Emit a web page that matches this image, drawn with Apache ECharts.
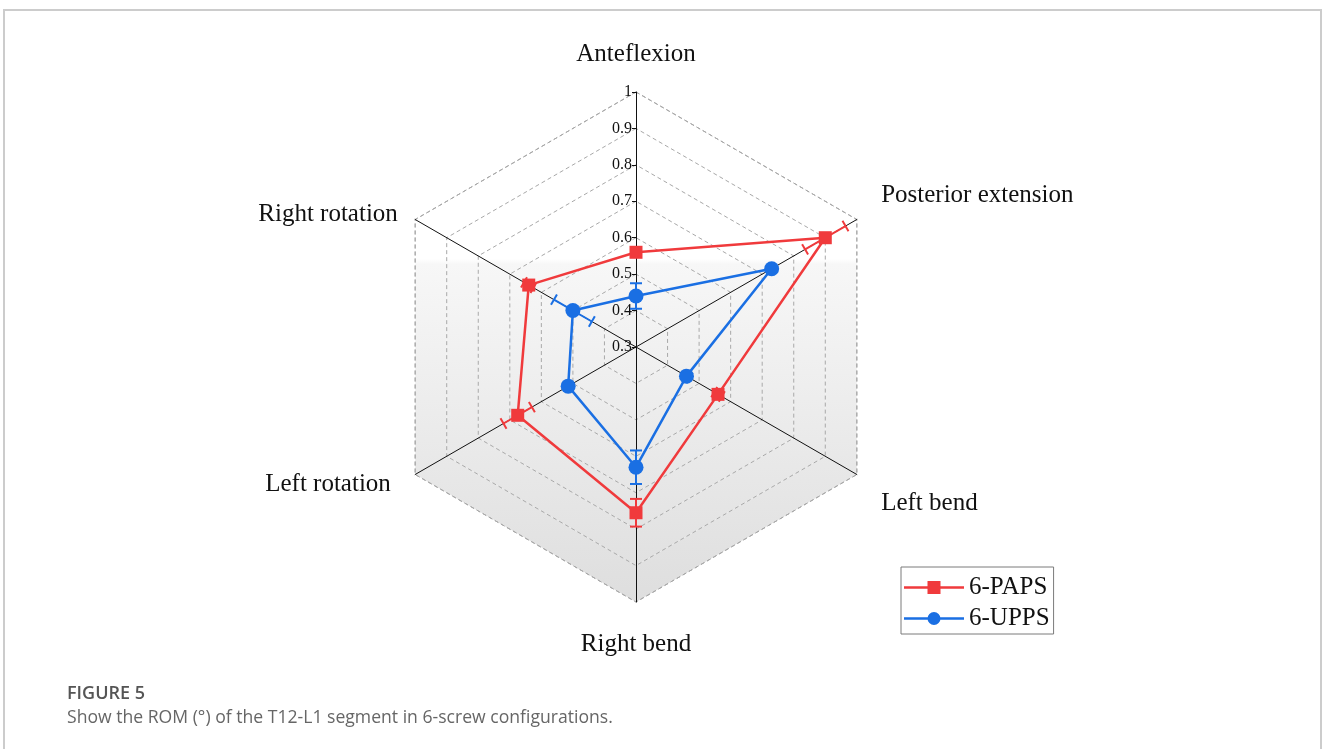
<!DOCTYPE html>
<html>
<head>
<meta charset="utf-8">
<script src="https://cdn.jsdelivr.net/npm/echarts@6/dist/echarts.min.js"></script>
<style>
  html, body { margin: 0; padding: 0; background: #fff; }
  #chart { width: 1328px; height: 749px; }
</style>
</head>
<body>
<div id="chart"></div>
<script>
// Axes listed counter-clockwise from the top
const indicatorNames = ['Anteflexion', 'Right rotation', 'Left rotation', 'Right bend', 'Left bend', 'Posterior extension'];
const seriesNames = ['6-PAPS', '6-UPPS'];
const papsValues = [0.56, 0.64, 0.675, 0.755, 0.56, 0.90];
const papsErrors = [0.008, 0.015, 0.045, 0.038, 0.012, 0.064];
const uppsValues = [0.44, 0.50, 0.515, 0.63, 0.46, 0.73];
const uppsErrors = [0.035, 0.06, 0.006, 0.046, 0.01, 0.006];
const axisMin = 0.3;
const axisMax = 1;
const axisStep = 0.1;

const RED = '#f03a3c';
const BLUE = '#1a6fe3';
const SERIF = '"Liberation Serif", "Times New Roman", serif';
const CENTER = [636, 347];
const RADIUS = 255;

// per-axis padding [top, right, bottom, left] that nudges each axis title
const namePadding = [[0, 0, 5, 0], [10, 0, 0, 0], [0, 7, 0, 0], [10, 0, 0, 0], [38, 0, 0, 7], [0, 0, 28, 7]];

const chart = echarts.init(document.getElementById('chart'), null, { renderer: 'canvas' });

// shading inside the web, fading from white to light grey downwards
const shade = {
  type: 'linear', x: 0, y: 90, x2: 0, y2: 602, global: true,
  colorStops: [
    { offset: 0, color: '#ffffff' },
    { offset: 0.33, color: '#ffffff' },
    { offset: 0.34, color: '#f7f7f7' },
    { offset: 1, color: '#dedede' }
  ]
};

// angle (degrees, counter-clockwise from top) of each indicator in the polar overlay
const angleOf = i => i * 360 / indicatorNames.length;

function errorData(values, errors) {
  return values.map((v, i) => [v, angleOf(i), errors[i]]);
}

function errorBarSeries(name, values, errors, color) {
  return {
    type: 'custom',
    name: name,
    coordinateSystem: 'polar',
    polarIndex: 0,
    z: 1,
    silent: true,
    itemStyle: { color: color },
    encode: { radius: 0, angle: 1 },
    data: errorData(values, errors),
    renderItem: function (params, api) {
      const v = api.value(0), a = api.value(1), e = api.value(2);
      const lo = api.coord([v - e, a]);
      const hi = api.coord([v + e, a]);
      let dx = hi[0] - lo[0], dy = hi[1] - lo[1];
      const len = Math.sqrt(dx * dx + dy * dy) || 1;
      dx /= len; dy /= len;
      const h = 6;
      const nx = -dy * h, ny = dx * h;
      const style = { stroke: color, lineWidth: 2 };
      return {
        type: 'group',
        children: [
          { type: 'line', shape: { x1: lo[0], y1: lo[1], x2: hi[0], y2: hi[1] }, style: style },
          { type: 'line', shape: { x1: lo[0] - nx, y1: lo[1] - ny, x2: lo[0] + nx, y2: lo[1] + ny }, style: style },
          { type: 'line', shape: { x1: hi[0] - nx, y1: hi[1] - ny, x2: hi[0] + nx, y2: hi[1] + ny }, style: style }
        ]
      };
    }
  };
}

const nameRich = {};
indicatorNames.forEach((n, i) => {
  nameRich['n' + i] = { color: '#111', fontFamily: SERIF, fontSize: 25, padding: namePadding[i] };
});

const option = {
  animation: false,
  backgroundColor: '#ffffff',
  color: [RED, BLUE],
  graphic: [
    {
      type: 'rect', silent: true, z: -10,
      shape: { x: 4, y: 10, width: 1317, height: 760 },
      style: { fill: 'none', stroke: '#cccccc', lineWidth: 2 }
    },
    {
      type: 'text', left: 67, top: 685,
      style: { text: 'FIGURE 5', fill: '#555555', font: '600 18px "Open Sans", sans-serif' }
    },
    {
      type: 'text', left: 67, top: 709,
      style: { text: 'Show the ROM (°) of the T12-L1 segment in 6-screw configurations.', fill: '#666666', font: '17.6px "Open Sans", sans-serif' }
    }
  ],
  legend: {
    orient: 'vertical',
    left: 901,
    top: 567,
    padding: [8, 4, 3, 3],
    itemGap: 6,
    itemWidth: 60,
    itemHeight: 14,
    borderColor: '#7a7a7a',
    borderWidth: 1,
    backgroundColor: '#ffffff',
    textStyle: { fontFamily: SERIF, fontSize: 25, color: '#111' },
    data: [
      {
        name: seriesNames[0], itemStyle: { color: RED },
        icon: 'path://M0,11.2L60,11.2L60,13.8L0,13.8Z M23.5,6L36.5,6L36.5,19L23.5,19Z'
      },
      {
        name: seriesNames[1], itemStyle: { color: BLUE },
        icon: 'path://M0,11.2L60,11.2L60,13.8L0,13.8Z M36.5,12.5A6.5,6.5 0 1,1 23.5,12.5A6.5,6.5 0 1,1 36.5,12.5Z'
      }
    ]
  },
  radar: {
    center: CENTER,
    radius: RADIUS,
    startAngle: 90,
    shape: 'polygon',
    splitNumber: Math.round((axisMax - axisMin) / axisStep),
    nameGap: 20,
    axisName: {
      color: '#111', fontFamily: SERIF, fontSize: 25,
      formatter: function (name) {
        return '{n' + indicatorNames.indexOf(name) + '|' + name + '}';
      },
      rich: nameRich
    },
    indicator: indicatorNames.map(n => ({ name: n, min: axisMin, max: axisMax })),
    axisLine: { lineStyle: { color: '#111', width: 1 } },
    splitLine: { lineStyle: { color: '#a8a8a8', width: 1, type: [4, 3] } },
    splitArea: { show: true, areaStyle: { color: [shade, shade, shade, shade, shade, shade, shade] } },
    axisLabel: { show: false },
    axisTick: { show: false }
  },
  polar: { center: CENTER, radius: [0, RADIUS] },
  angleAxis: {
    type: 'value', min: 0, max: 360, startAngle: 90, clockwise: false,
    axisLine: { show: false }, axisTick: { show: false }, axisLabel: { show: false },
    splitLine: { show: false }, splitArea: { show: false }
  },
  radiusAxis: {
    type: 'value', min: axisMin, max: axisMax, interval: axisStep,
    axisLine: { show: false },
    axisTick: { show: true, length: 4, lineStyle: { color: '#111' } },
    axisLabel: {
      show: true, color: '#111', fontFamily: SERIF, fontSize: 16, margin: 4,
      formatter: v => String(+v.toFixed(1))
    },
    splitLine: { show: false }, splitArea: { show: false }
  },
  series: [
    errorBarSeries(seriesNames[0], papsValues, papsErrors, RED),
    errorBarSeries(seriesNames[1], uppsValues, uppsErrors, BLUE),
    {
      type: 'radar',
      z: 3,
      data: [
        {
          name: seriesNames[0], value: papsValues,
          symbol: 'rect', symbolSize: 13,
          itemStyle: { color: RED },
          lineStyle: { color: RED, width: 2.5 }
        },
        {
          name: seriesNames[1], value: uppsValues,
          symbol: 'circle', symbolSize: 15,
          itemStyle: { color: BLUE },
          lineStyle: { color: BLUE, width: 2.5 }
        }
      ]
    }
  ]
};

chart.setOption(option);
</script>
</body>
</html>
